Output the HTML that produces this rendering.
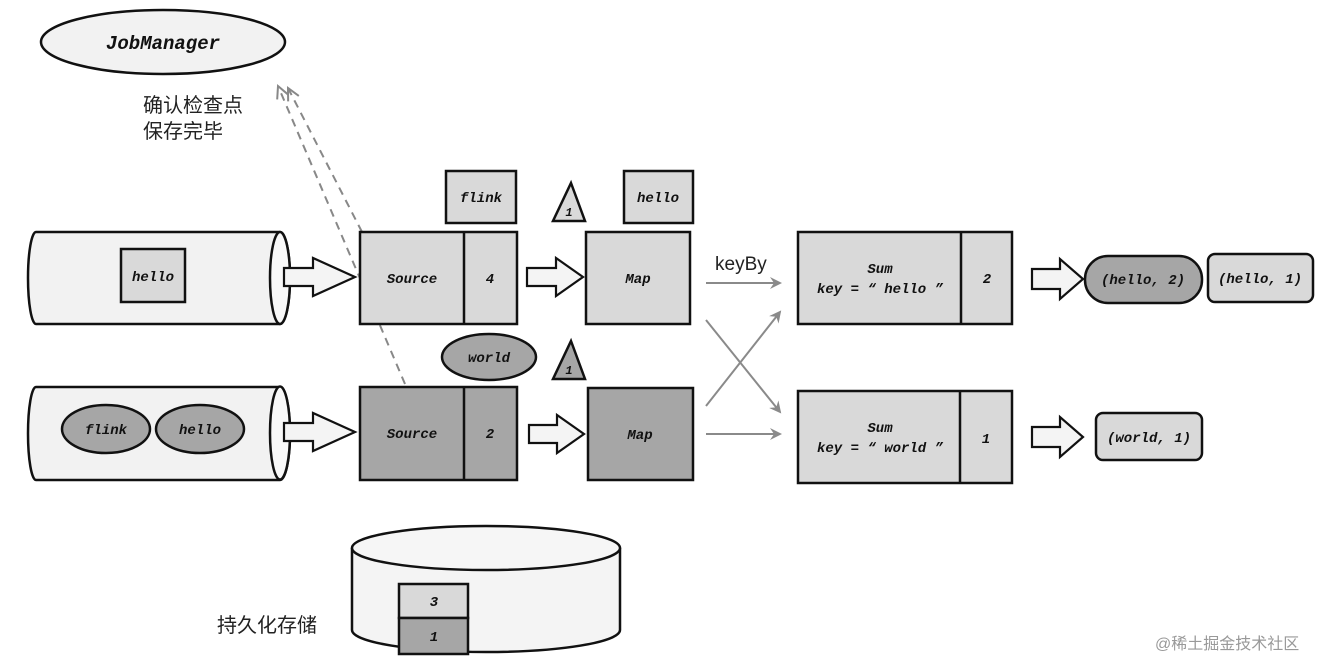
<!DOCTYPE html>
<html><head><meta charset="utf-8"><style>
body{margin:0;background:#fff}
svg{display:block}
.m{font-family:"Liberation Mono",monospace;font-style:italic;font-weight:bold;font-size:14px;fill:#111}
.c{font-family:"Liberation Sans","Noto Sans CJK SC",sans-serif;font-size:20px;fill:#222}
</style></head><body>
<svg width="1334" height="672" viewBox="0 0 1334 672" xmlns="http://www.w3.org/2000/svg">
<defs>
<marker id="ga" markerWidth="12" markerHeight="12" refX="10" refY="6" orient="auto" markerUnits="userSpaceOnUse"><path d="M0,0 L12,6 L0,12 L4,6 Z" fill="#8a8a8a"/></marker>
<marker id="da" markerWidth="16" markerHeight="16" refX="14" refY="8" orient="auto" markerUnits="userSpaceOnUse"><path d="M2,2 L14,8 L2,14" fill="none" stroke="#888" stroke-width="2"/></marker>
</defs>
<g stroke="#111" stroke-width="2.5">
<!-- JobManager -->
<ellipse cx="163" cy="42" rx="122" ry="32" fill="#f2f2f2"/>
</g>
<text x="163" y="49" text-anchor="middle" class="m" style="font-size:19px">JobManager</text>
<text x="143" y="112" class="c">确认检查点</text>
<text x="143" y="138" class="c">保存完毕</text>
<!-- dashed -->
<line x1="405" y1="384" x2="278" y2="86" stroke="#888" stroke-width="2" stroke-dasharray="8,6" marker-end="url(#da)"/>
<line x1="362" y1="232" x2="288" y2="88" stroke="#888" stroke-width="2" stroke-dasharray="8,6" marker-end="url(#da)"/>
<g stroke="#111" stroke-width="2.5">
<!-- cylinders -->
<path d="M36,232 H280 A10,46 0 0 1 280,324 H36 A8,46 0 0 1 36,232 Z" fill="#f2f2f2"/>
<ellipse cx="280" cy="278" rx="10" ry="46" fill="#f8f8f8"/>
<rect x="121" y="249" width="64" height="53" fill="#d9d9d9"/>
<path d="M36,387 H280 A10,46.5 0 0 1 280,480 H36 A8,46.5 0 0 1 36,387 Z" fill="#f2f2f2"/>
<ellipse cx="280" cy="433" rx="10" ry="46.5" fill="#f8f8f8"/>
<ellipse cx="106" cy="429" rx="44" ry="24" fill="#a6a6a6"/>
<ellipse cx="200" cy="429" rx="44" ry="24" fill="#a6a6a6"/>
<!-- source boxes -->
<rect x="360" y="232" width="157" height="92" fill="#d9d9d9"/>
<line x1="464" y1="232" x2="464" y2="324"/>
<rect x="360" y="387" width="157" height="93" fill="#a6a6a6"/>
<line x1="464" y1="387" x2="464" y2="480"/>
<rect x="446" y="171" width="70" height="52" fill="#d9d9d9"/>
<ellipse cx="489" cy="357" rx="47" ry="23" fill="#a6a6a6"/>
<!-- triangles -->
<path d="M571,183 L585,221 L553,221 Z" fill="#d9d9d9"/>
<path d="M571,341 L585,379 L553,379 Z" fill="#a6a6a6"/>
<rect x="624" y="171" width="69" height="52" fill="#d9d9d9"/>
<!-- map -->
<rect x="586" y="232" width="104" height="92" fill="#d9d9d9"/>
<rect x="588" y="388" width="105" height="92" fill="#a6a6a6"/>
<!-- sum -->
<rect x="798" y="232" width="214" height="92" fill="#d9d9d9"/>
<line x1="961" y1="232" x2="961" y2="324"/>
<rect x="798" y="391" width="214" height="92" fill="#d9d9d9"/>
<line x1="960" y1="391" x2="960" y2="483"/>
<!-- outputs -->
<rect x="1085" y="256" width="117" height="47" rx="23" fill="#a6a6a6"/>
<rect x="1208" y="254" width="105" height="48" rx="7" fill="#d9d9d9"/>
<rect x="1096" y="413" width="106" height="47" rx="7" fill="#d9d9d9"/>
<!-- storage -->
<path d="M352,548 V630 A134,22 0 0 0 620,630 V548" fill="#f4f4f4"/>
<ellipse cx="486" cy="548" rx="134" ry="22" fill="#f6f6f6"/>
<rect x="399" y="584" width="69" height="34" fill="#d9d9d9"/>
<rect x="399" y="618" width="69" height="36" fill="#a6a6a6"/>
</g>
<!-- hollow arrows -->
<g stroke="#111" stroke-width="2.2" fill="#f4f4f4">
<path d="M284,268 H313 V258 L355,277 L313,296 V286 H284 Z"/>
<path d="M284,423 H313 V413 L355,432 L313,451 V441 H284 Z"/>
<path d="M527,268 H556 V258 L583,277 L556,296 V286 H527 Z"/>
<path d="M529,425 H557 V415 L584,434 L557,453 V443 H529 Z"/>
<path d="M1032,269 H1060 V259 L1083,279 L1060,299 V289 H1032 Z"/>
<path d="M1032,427 H1060 V417 L1083,437 L1060,457 V447 H1032 Z"/>
</g>
<!-- gray connectors -->
<g stroke="#8a8a8a" stroke-width="2" marker-end="url(#ga)">
<line x1="706" y1="283" x2="780" y2="283"/>
<line x1="706" y1="320" x2="780" y2="412"/>
<line x1="706" y1="406" x2="780" y2="312"/>
<line x1="706" y1="434" x2="780" y2="434"/>
</g>
<text x="715" y="270" style="font-family:'Liberation Sans',sans-serif;font-size:19px;fill:#222">keyBy</text>
<!-- labels -->
<text x="153" y="281" text-anchor="middle" class="m">hello</text>
<text x="106" y="434" text-anchor="middle" class="m">flink</text>
<text x="200" y="434" text-anchor="middle" class="m">hello</text>
<text x="412" y="283" text-anchor="middle" class="m">Source</text>
<text x="490" y="283" text-anchor="middle" class="m">4</text>
<text x="412" y="438" text-anchor="middle" class="m">Source</text>
<text x="490" y="438" text-anchor="middle" class="m">2</text>
<text x="481" y="202" text-anchor="middle" class="m">flink</text>
<text x="489" y="362" text-anchor="middle" class="m">world</text>
<text x="569" y="216" text-anchor="middle" class="m" style="font-size:12px">1</text>
<text x="569" y="374" text-anchor="middle" class="m" style="font-size:12px">1</text>
<text x="658" y="202" text-anchor="middle" class="m">hello</text>
<text x="638" y="283" text-anchor="middle" class="m">Map</text>
<text x="640" y="439" text-anchor="middle" class="m">Map</text>
<text x="880" y="273" text-anchor="middle" class="m">Sum</text>
<text x="880" y="293" text-anchor="middle" class="m">key = “ hello ”</text>
<text x="987" y="283" text-anchor="middle" class="m">2</text>
<text x="880" y="432" text-anchor="middle" class="m">Sum</text>
<text x="880" y="452" text-anchor="middle" class="m">key = “ world ”</text>
<text x="986" y="443" text-anchor="middle" class="m">1</text>
<text x="1143" y="284" text-anchor="middle" class="m">(hello, 2)</text>
<text x="1260" y="283" text-anchor="middle" class="m">(hello, 1)</text>
<text x="1149" y="442" text-anchor="middle" class="m">(world, 1)</text>
<text x="434" y="606" text-anchor="middle" class="m">3</text>
<text x="434" y="641" text-anchor="middle" class="m">1</text>
<text x="217" y="632" class="c">持久化存储</text>
<text x="1155" y="649" style="font-family:'Liberation Sans','Noto Sans CJK SC',sans-serif;font-size:16px;fill:#999">@稀土掘金技术社区</text>
</svg>
</body></html>
